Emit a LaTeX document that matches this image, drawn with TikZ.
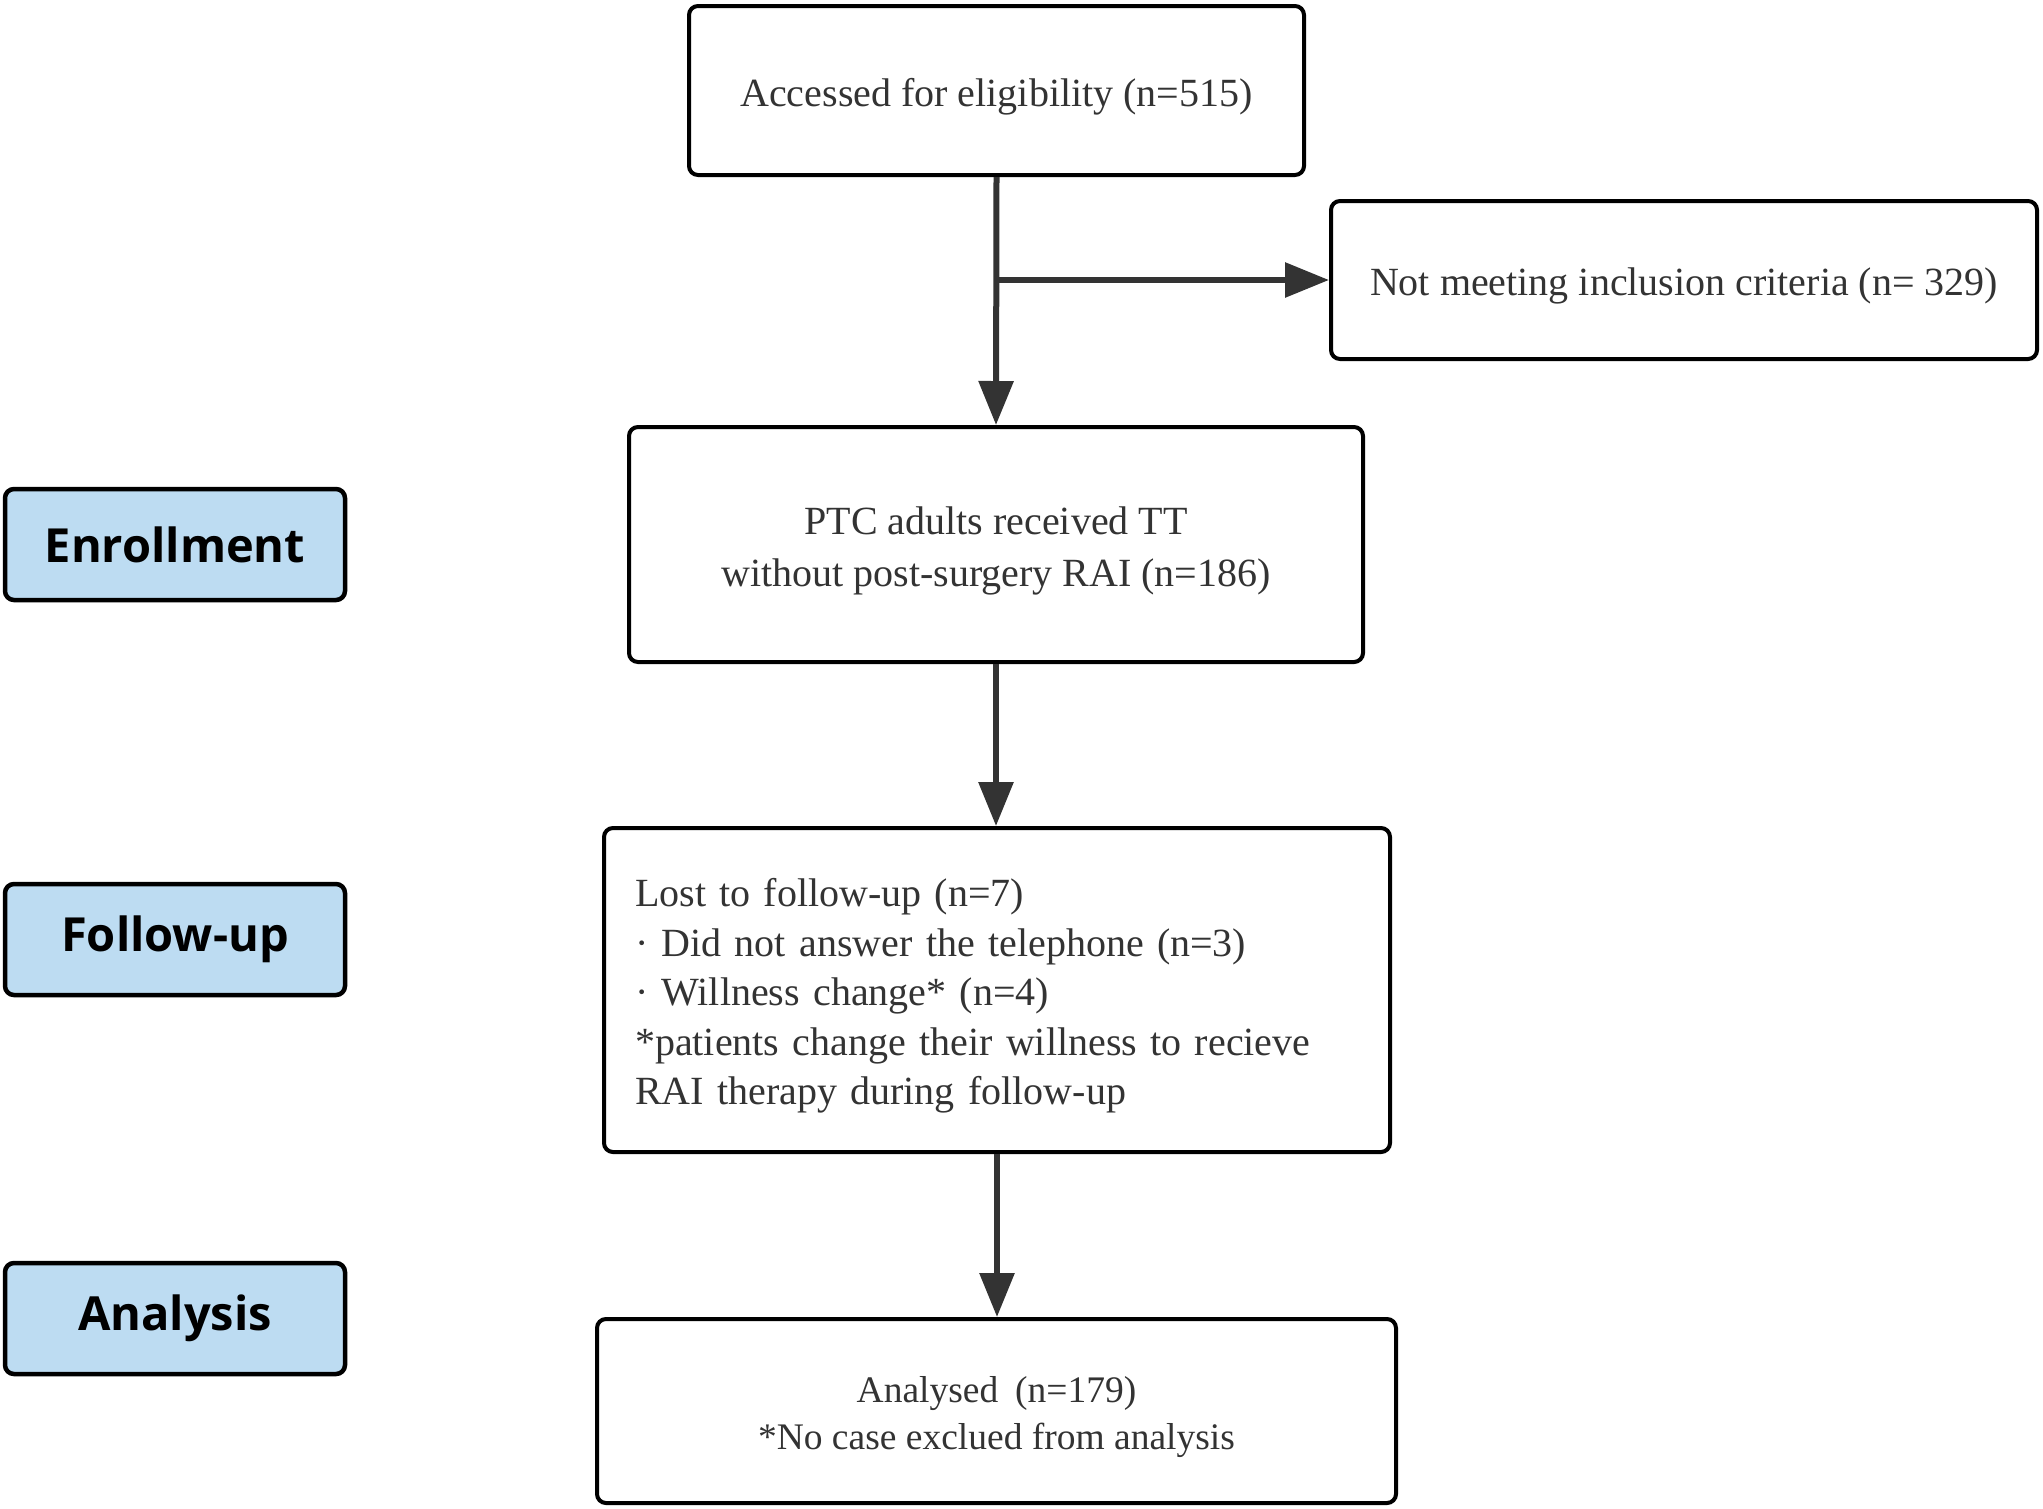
\documentclass[tikz,border=0pt]{standalone}
\usepackage{fontspec}
\setmainfont{Liberation Serif}
\newfontfamily\labfont{Open Sans}
\usetikzlibrary{arrows.meta}
\definecolor{txt}{HTML}{333333}
\definecolor{arr}{HTML}{333333}
\definecolor{lab}{HTML}{BDDCF2}
\begin{document}
\begin{tikzpicture}[x=1pt,y=-1pt,
  box/.style={draw=black,line width=4pt,rounded corners=9pt,fill=white,inner sep=0pt},
  btext/.style={text=txt,font=\fontsize{40}{50}\selectfont,align=center,inner sep=0pt,yshift=-6pt},
  stage/.style={draw=black,line width=4.5pt,rounded corners=9pt,fill=lab,
    minimum width=340pt,minimum height=111pt,inner sep=0pt,
    font=\labfont\bfseries\fontsize{47}{56}\selectfont},
  conn/.style={draw=arr,line width=6pt,-{Triangle[length=44pt,width=34pt]}}]
\useasboundingbox (0,0) rectangle (2043,1508);
\node[box,minimum width=615pt,minimum height=169pt] (acc) at (996.5,90.5) {};
\node[btext] (acct) at (acc.center) {Accessed for eligibility (n=515)};
\node[box,minimum width=706pt,minimum height=158pt] (excl) at (1684,280) {};
\node[btext] (exclt) at (excl.center) {Not meeting inclusion criteria (n= 329)};
\node[box,minimum width=734pt,minimum height=235pt] (ptc) at (996,544.5) {};
\node[btext,font=\fontsize{40}{52}\selectfont] (ptct) at (ptc.center) {PTC adults received TT\\without post-surgery RAI (n=186)};
\node[box,minimum width=786pt,minimum height=324pt] (lost) at (997,990) {};
\node[btext,text width=724pt,align=left,font=\fontsize{40}{49.5}\selectfont] (lostt) at (lost.center) {Lost to follow-up (n=7)\\· Did not answer the telephone (n=3)\\· Willness change* (n=4)\\{}*patients change their willness to recieve\\RAI therapy during follow-up};
\node[box,minimum width=799pt,minimum height=184pt] (ana) at (996.5,1411) {};
\node[btext,font=\fontsize{37.5}{47}\selectfont] (anat) at (ana.center) {Analysed\hspace{0.45em}(n=179)\\*No case exclued from analysis};
\node[stage] (s1) at (175,544.5) {Enrollment};
\node[stage] (s2) at (175,939.5) {Follow-up};
\node[stage] (s3) at (175,1318.5) {Analysis};
\coordinate (br) at (acc.south |- excl.west);
\draw[conn] (acc.south) -- (ptc.north);
\draw[conn] (br) -- (excl.west);
\draw[conn] (ptc.south) -- (ptc.south |- lost.north);
\draw[conn] (lost.south) -- (lost.south |- ana.north);
\end{tikzpicture}
\end{document}
